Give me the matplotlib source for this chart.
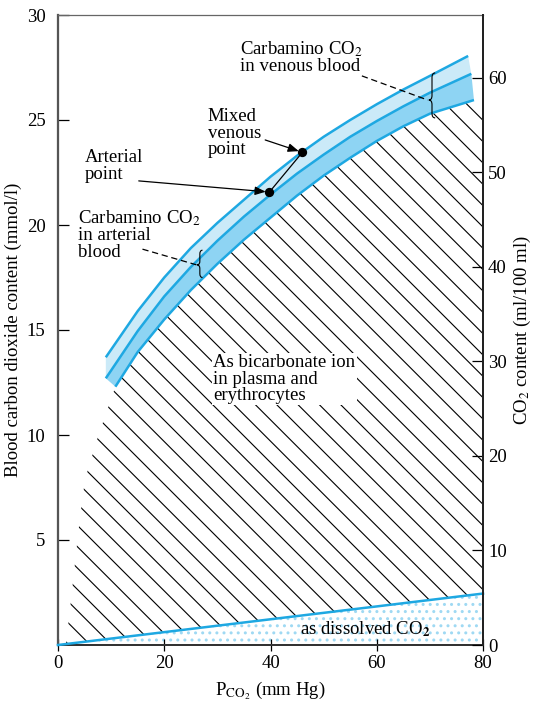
import numpy as np
import matplotlib
matplotlib.use('Agg')
import matplotlib.pyplot as plt
from matplotlib.patches import Polygon, PathPatch
from matplotlib.path import Path

plt.rcParams['font.family'] = ['Liberation Serif', 'DejaVu Serif']
plt.rcParams['mathtext.fontset'] = 'stix'

# venous blood total CO2 (upper line of the band)
venous_p = [9, 15, 20, 25, 30, 35, 40, 45, 50, 55, 60, 65, 70, 77.2]
venous_c = [13.7, 15.9, 17.5, 18.9, 20.1, 21.2, 22.3, 23.3, 24.2, 25.0, 25.75, 26.45, 27.1, 28.05]

# arterial blood total CO2 (middle line)
arterial_p = [9, 15, 20, 25, 30, 35, 40, 45, 50, 55, 60, 65, 70, 77.8]
arterial_c = [12.7, 14.95, 16.6, 18.0, 19.25, 20.4, 21.45, 22.45, 23.35, 24.2, 24.95, 25.65, 26.3, 27.2]

# bicarbonate ion (lower line of the band)
bicarb_p = [10.8, 15, 20, 25, 30, 35, 40, 45, 50, 55, 60, 65, 70, 78.3]
bicarb_c = [12.3, 13.95, 15.5, 16.9, 18.15, 19.3, 20.35, 21.4, 22.35, 23.2, 24.0, 24.7, 25.3, 25.95]

# left edge of the bicarbonate area, below the band
bicarb_low_p = [7.5, 5.1, 4.1, 3.2, 2.3, 1.5]
bicarb_low_c = [9.9, 7.9, 6.0, 3.9, 1.8, 0.05]

# dissolved CO2
dissolved_p = [0, 80]
dissolved_c = [0, 2.45]

arterial_pt = (39.8, 21.57)
venous_pt = (46.0, 23.46)

x_ticks = [0, 20, 40, 60, 80]
y_ticks = [5, 10, 15, 20, 25, 30]
right_ticks = [0, 10, 20, 30, 40, 50, 60]
ml_per_mmol = 2.222

blue = '#1ea8e2'
light = '#cbeaf8'
mid = '#8ed4f3'

dpi = 128
S = 90.0 / dpi  # sizes below were tuned for 90 dpi

fig = plt.figure(figsize=(539 / dpi, 708 / dpi), dpi=dpi)
ax = fig.add_axes([58 / 539, 63 / 708, 425 / 539, 630 / 708])
ax.set_xlim(0, 80)
ax.set_ylim(0, 30)

# dissolved area
plt.rcParams['hatch.linewidth'] = 1.3 * S
dis = Polygon(list(zip(dissolved_p, dissolved_c)) + [(80, 0), (0, 0)], closed=True,
              facecolor='white', edgecolor='#9fd9f3', hatch='...', lw=0, zorder=1)
ax.add_patch(dis)

# bicarbonate hatched area
plt.rcParams['hatch.linewidth'] = 0.9 * S
verts = list(zip(bicarb_p, bicarb_c)) + [(80, 25.3), (80, dissolved_c[1])]
verts += [(p, np.interp(p, dissolved_p, dissolved_c)) for p in [40, 20, bicarb_low_p[-1]]]
verts += list(zip(bicarb_low_p[::-1], bicarb_low_c[::-1]))[1:]
hatch_poly = Polygon(verts, closed=True, fill=False, edgecolor='black',
                     hatch='\\\\', lw=0, zorder=1)
ax.add_patch(hatch_poly)

# band fills
ax.fill(list(venous_p) + arterial_p[::-1], list(venous_c) + arterial_c[::-1],
        color=light, lw=0, zorder=2)
ax.fill(list(arterial_p) + bicarb_p[::-1], list(arterial_c) + bicarb_c[::-1],
        color=mid, lw=0, zorder=2)
for p, c in [(venous_p, venous_c), (arterial_p, arterial_c), (bicarb_p, bicarb_c)]:
    ax.plot(p, c, color=blue, lw=2 * S, zorder=3, solid_capstyle='butt', solid_joinstyle='round')
ax.plot(dissolved_p, dissolved_c, color=blue, lw=2 * S, zorder=3, clip_on=False)

# points
ax.plot([arterial_pt[0], venous_pt[0]], [arterial_pt[1], venous_pt[1]], color='black',
        lw=1 * S, zorder=4)
ax.plot(*arterial_pt, 'o', color='black', ms=6 * S, zorder=5)
ax.plot(*venous_pt, 'o', color='black', ms=6 * S, zorder=5)


def brace(x, y0, y1, ym, w=0.6, h=0.22):
    codes = [Path.MOVETO, Path.CURVE3, Path.CURVE3, Path.LINETO, Path.CURVE3, Path.CURVE3,
             Path.CURVE3, Path.CURVE3, Path.LINETO, Path.CURVE3, Path.CURVE3]
    pts = [(x + w, y1), (x, y1), (x, y1 - h), (x, ym + h), (x, ym), (x - w, ym),
           (x, ym), (x, ym - h), (x, y0 + h), (x, y0), (x + w, y0)]
    ax.add_patch(PathPatch(Path(pts, codes), fill=False, lw=0.9 * S, color='black', zorder=6))


brace(70.4, 25.1, 27.24, 25.95)
brace(26.7, 17.5, 18.8, 18.1, w=0.5, h=0.18)

fs = 15 * S
ls = 0.95
arrow = dict(arrowstyle='-|>,head_length=0.5,head_width=0.2', color='black', lw=1 * S,
             shrinkA=0, shrinkB=3 * S)

ax.text(34.3, 28.85, 'Carbamino CO$_2$\nin venous blood', fontsize=fs, va='top', ha='left',
        linespacing=ls, zorder=7)
ax.plot([57.2, 69.6], [27.1, 25.95], color='black', lw=1 * S, dashes=(5, 3), zorder=6)

ax.text(28.2, 25.55, 'Mixed\nvenous\npoint', fontsize=fs, va='top', ha='left', linespacing=ls, zorder=7)
ax.annotate('', xy=venous_pt, xytext=(39.0, 24.05), arrowprops=arrow, zorder=7)

ax.text(5.1, 23.6, 'Arterial\npoint', fontsize=fs, va='top', ha='left', linespacing=ls, zorder=7)
ax.annotate('', xy=arterial_pt, xytext=(15.2, 22.1), arrowprops=arrow, zorder=7)

ax.text(3.8, 20.8, 'Carbamino CO$_2$\nin arterial\nblood', fontsize=fs, va='top', ha='left',
        linespacing=ls, zorder=7)
ax.plot([15.9, 26.1], [18.85, 18.1], color='black', lw=1 * S, dashes=(5, 3), zorder=6)

ax.text(29.2, 13.85, 'As bicarbonate ion\nin plasma and\nerythrocytes', fontsize=fs, va='top',
        ha='left', linespacing=ls, zorder=7,
        bbox=dict(facecolor='white', edgecolor='none', pad=1.0 * S))

ax.text(45.6, 0.5, r'as dissolved CO$\mathbf{_2}$', fontsize=fs, va='baseline', ha='left', zorder=7)

# axes styling
ax.set_xticks(x_ticks)
ax.set_yticks(y_ticks)
ax.tick_params(axis='x', direction='inout', length=10 * S, width=1 * S, labelsize=fs, pad=3 * S)
ax.tick_params(axis='y', direction='in', length=9 * S, width=1 * S, labelsize=fs, pad=10 * S)
ax.spines['top'].set_color('#666666')
ax.spines['top'].set_linewidth(1.0 * S)
ax.spines['left'].set_color('#555555')
ax.spines['left'].set_linewidth(1.8 * S)
ax.spines['bottom'].set_color('#333333')
ax.spines['bottom'].set_linewidth(1.6 * S)
ax.spines['right'].set_visible(False)
ax.set_ylabel('Blood carbon dioxide content (mmol/l)', fontsize=fs, labelpad=4 * S)
ax.set_xlabel(r'P$_{\mathrm{CO}_2}$ (mm Hg)', fontsize=fs, labelpad=6 * S)

ax2 = ax.twinx()
ax2.set_ylim(0, 30 * ml_per_mmol)
ax2.set_yticks(right_ticks)
ax2.tick_params(axis='y', direction='in', length=9 * S, width=1 * S, labelsize=fs, pad=4 * S)
for s in ['top', 'left', 'bottom']:
    ax2.spines[s].set_visible(False)
ax2.spines['right'].set_color('#222222')
ax2.spines['right'].set_linewidth(1.6 * S)
ax2.set_ylabel('CO$_2$ content (ml/100 ml)', fontsize=fs, labelpad=4 * S)

fig.savefig('out.png', dpi=dpi)
